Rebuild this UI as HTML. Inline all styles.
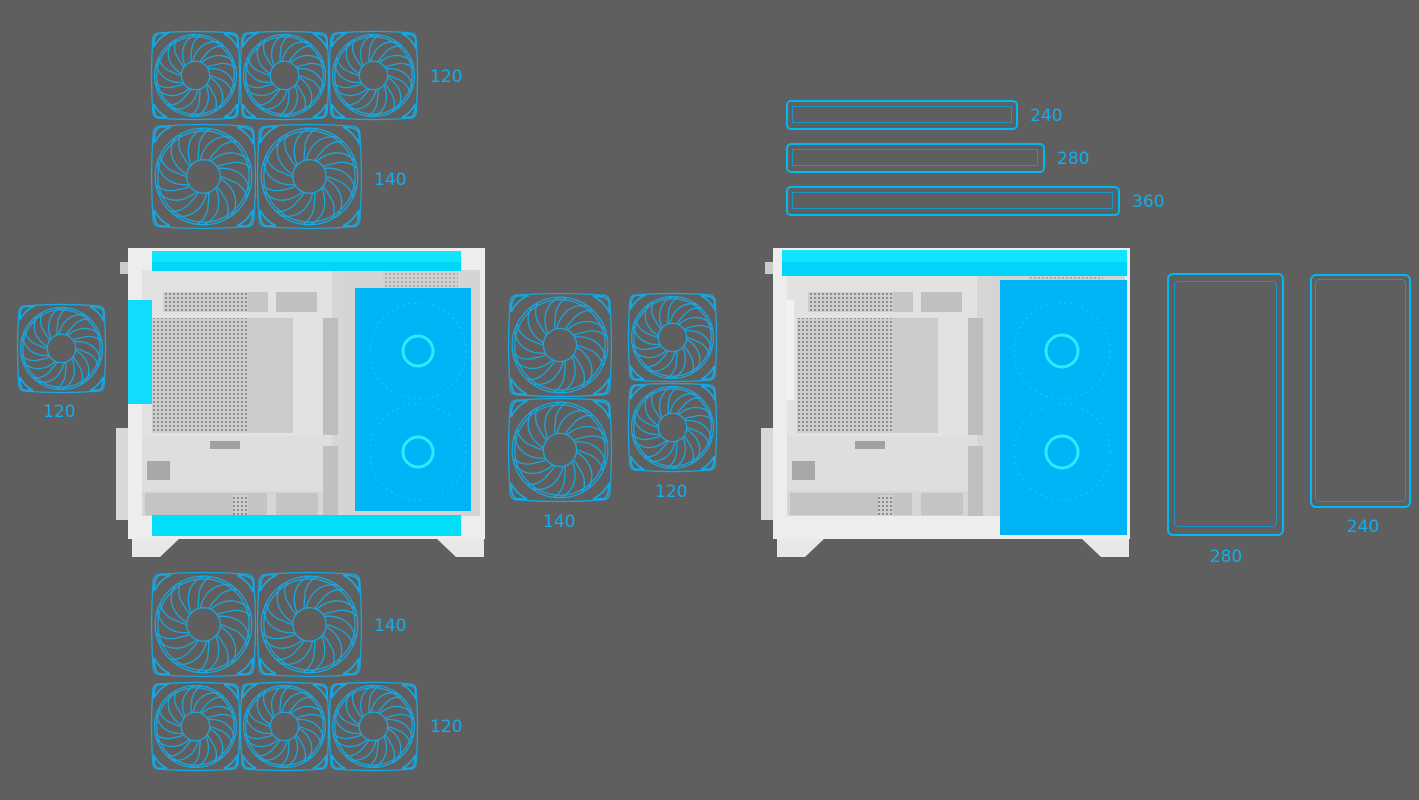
<!DOCTYPE html>
<html><head><meta charset="utf-8"><style>
html,body{margin:0;padding:0;background:#5f5f5f;}
svg{display:block}
text{font-family:"DejaVu Sans","Liberation Sans",sans-serif;font-size:17px;fill:#10aef0;}
</style></head><body>
<svg width="1419" height="800" viewBox="0 0 1419 800" xmlns="http://www.w3.org/2000/svg">
<defs>
<g id="blade"><path vector-effect="non-scaling-stroke" d="M-3,-16 C0,-28 8,-38 22,-38 C26,-38 29,-36 31,-33 C24,-34 16,-30 12,-24 C8,-20 6,-17 5,-15" fill="none"/></g>
<g id="fan" fill="none" stroke="#18a6de" stroke-width="1.3">
  <path vector-effect="non-scaling-stroke" d="M10,2 Q50,-1 90,2 Q98,2 98,10 Q101,50 98,90 Q98,98 90,98 Q50,101 10,98 Q2,98 2,90 Q-1,50 2,10 Q2,2 10,2 Z"/>
  <path vector-effect="non-scaling-stroke" stroke-width="1.8" d="M3,18 Q3,5 8,3 Q14,2 18,3 Q8,8 3,18 Z M82,3 Q95,3 97,8 Q98,14 97,18 Q92,8 82,3 Z M3,82 Q8,92 18,97 L8,97 Q3,95 3,82 Z M97,82 Q92,92 82,97 L92,97 Q97,95 97,82 Z"/>
  <circle vector-effect="non-scaling-stroke" cx="50" cy="50" r="46"/>
  <circle vector-effect="non-scaling-stroke" cx="50" cy="50" r="43.5"/>
  <circle vector-effect="non-scaling-stroke" cx="50" cy="50" r="16"/>
  <g transform="translate(50,50)">
   <use href="#blade" transform="rotate(0)"/><use href="#blade" transform="rotate(36)"/><use href="#blade" transform="rotate(72)"/><use href="#blade" transform="rotate(108)"/><use href="#blade" transform="rotate(144)"/><use href="#blade" transform="rotate(180)"/><use href="#blade" transform="rotate(216)"/><use href="#blade" transform="rotate(252)"/><use href="#blade" transform="rotate(288)"/><use href="#blade" transform="rotate(324)"/>
  </g>
</g>
<pattern id="dots" width="4" height="4" patternUnits="userSpaceOnUse"><rect width="4" height="4" fill="#cfcfcf"/><circle cx="2" cy="2" r="1" fill="#7a7a7a"/></pattern>
<g id="case">
  <rect x="116" y="428" width="14" height="92" fill="#d8d8d8"/>
  <rect x="120" y="262" width="8" height="12" fill="#ccc"/>
  <polygon points="132,538 180,538 160,557 132,557" fill="#e8e8e8"/>
  <polygon points="436,538 484,538 484,557 456,557" fill="#e8e8e8"/>
  <rect x="128" y="248" width="357" height="291" fill="#ededed"/>
  <rect x="142" y="270" width="338" height="246" fill="#d6d6d6"/>
  <rect x="142" y="270" width="190" height="166" fill="#e2e2e2"/>
  <rect x="142" y="436" width="190" height="55" fill="#dedede"/>
  <rect x="163" y="292" width="85" height="20" fill="url(#dots)"/>
  <rect x="248" y="292" width="20" height="20" fill="#c6c6c6"/>
  <rect x="276" y="292" width="41" height="20" fill="#c0c0c0"/>
  <rect x="152" y="318" width="96" height="115" fill="url(#dots)"/>
  <rect x="248" y="318" width="45" height="115" fill="#cbcbcb"/>
  <rect x="323" y="318" width="15" height="117" fill="#bdbdbd"/>
  <rect x="323" y="446" width="15" height="70" fill="#c0c0c0"/>
  <rect x="147" y="461" width="23" height="19" fill="#a8a8a8"/>
  <rect x="210" y="441" width="30" height="8" fill="#a0a0a0"/>
  <rect x="145" y="493" width="122" height="22" fill="#c4c4c4"/>
  <rect x="233" y="495" width="15" height="20" fill="url(#dots)"/>
  <rect x="276" y="493" width="42" height="22" fill="#c4c4c4"/>
  <rect x="383" y="271" width="75" height="16" fill="url(#dots)"/>
  <rect x="345" y="272" width="135" height="244" fill="#d2d2d2" opacity="0.5"/>
</g>
</defs>
<rect width="1419" height="800" fill="#5f5f5f"/>

<use href="#fan" transform="translate(151,31) scale(0.89)"/>
<use href="#fan" transform="translate(240,31) scale(0.89)"/>
<use href="#fan" transform="translate(329,31) scale(0.89)"/>
<use href="#fan" transform="translate(151,124) scale(1.05)"/>
<use href="#fan" transform="translate(257,124) scale(1.05)"/>
<text x="430" y="82">120</text>
<text x="374" y="185">140</text>
<use href="#fan" transform="translate(17,304) scale(0.89)"/>
<text x="43" y="417">120</text>
<use href="#fan" transform="translate(508,293) scale(1.04)"/>
<use href="#fan" transform="translate(508,398) scale(1.04)"/>
<use href="#fan" transform="translate(628,293) scale(0.89)"/>
<use href="#fan" transform="translate(628,383) scale(0.89)"/>
<text x="543" y="527">140</text>
<text x="655" y="497">120</text>
<use href="#fan" transform="translate(151,572) scale(1.05)"/>
<use href="#fan" transform="translate(257,572) scale(1.05)"/>
<use href="#fan" transform="translate(151,682) scale(0.89)"/>
<use href="#fan" transform="translate(240,682) scale(0.89)"/>
<use href="#fan" transform="translate(329,682) scale(0.89)"/>
<text x="374" y="631">140</text>
<text x="430" y="732">120</text>

<use href="#case"/>
<rect x="152" y="251" width="309" height="20" fill="#00d6f8"/>
<rect x="152" y="251" width="309" height="11" fill="#10e4ff"/>
<rect x="152" y="515" width="309" height="21" fill="#00def8"/>
<rect x="128" y="300" width="24" height="104" fill="#10dcff"/>
<rect x="355" y="288" width="116" height="223" fill="#00b4f6"/>
<g fill="none" stroke="#30e8ff" stroke-width="3"><circle cx="418" cy="351" r="15"/><circle cx="418" cy="452" r="15"/></g>
<g fill="none" stroke="#20c8ff" stroke-width="1" stroke-dasharray="2 4"><circle cx="418" cy="351" r="48"/><circle cx="418" cy="452" r="48"/></g>

<use href="#case" transform="translate(645,0)"/>
<rect x="786" y="300" width="8" height="100" fill="#f2f2f2"/>
<rect x="782" y="250" width="345" height="26" fill="#00d4fa"/>
<rect x="782" y="250" width="345" height="12" fill="#10e4ff"/>
<rect x="1000" y="280" width="127" height="255" fill="#00b4f6"/>
<g fill="none" stroke="#30e8ff" stroke-width="3"><circle cx="1062" cy="351" r="16"/><circle cx="1062" cy="452" r="16"/></g>
<g fill="none" stroke="#20c8ff" stroke-width="1" stroke-dasharray="2 4"><circle cx="1062" cy="351" r="48"/><circle cx="1062" cy="452" r="48"/></g>

<g fill="none">
<rect x="787" y="101" width="230" height="28" rx="4" stroke="#00b8f2" stroke-width="2"/>
<rect x="792.5" y="106.5" width="219" height="16" stroke="#1a95c8" stroke-width="1"/>
<rect x="787" y="144" width="257" height="28" rx="4" stroke="#00b8f2" stroke-width="2"/>
<rect x="792.5" y="149.5" width="245" height="16" stroke="#1a95c8" stroke-width="1"/>
<rect x="787" y="187" width="332" height="28" rx="4" stroke="#00b8f2" stroke-width="2"/>
<rect x="792.5" y="192.5" width="320" height="16" stroke="#1a95c8" stroke-width="1"/>
<rect x="1168" y="274" width="115" height="261" rx="5" stroke="#00b8f2" stroke-width="2"/>
<rect x="1174.5" y="281.5" width="102" height="245" rx="4" stroke="#1a95c8" stroke-width="1"/>
<rect x="1311" y="275" width="99" height="232" rx="5" stroke="#00b8f2" stroke-width="2"/>
<rect x="1315.5" y="279.5" width="90" height="222" rx="4" stroke="#1a95c8" stroke-width="1"/>
</g>
<text x="1030" y="121">240</text>
<text x="1057" y="164">280</text>
<text x="1132" y="207">360</text>
<text x="1226" y="562" text-anchor="middle">280</text>
<text x="1363" y="532" text-anchor="middle">240</text>
</svg>
</body></html>
